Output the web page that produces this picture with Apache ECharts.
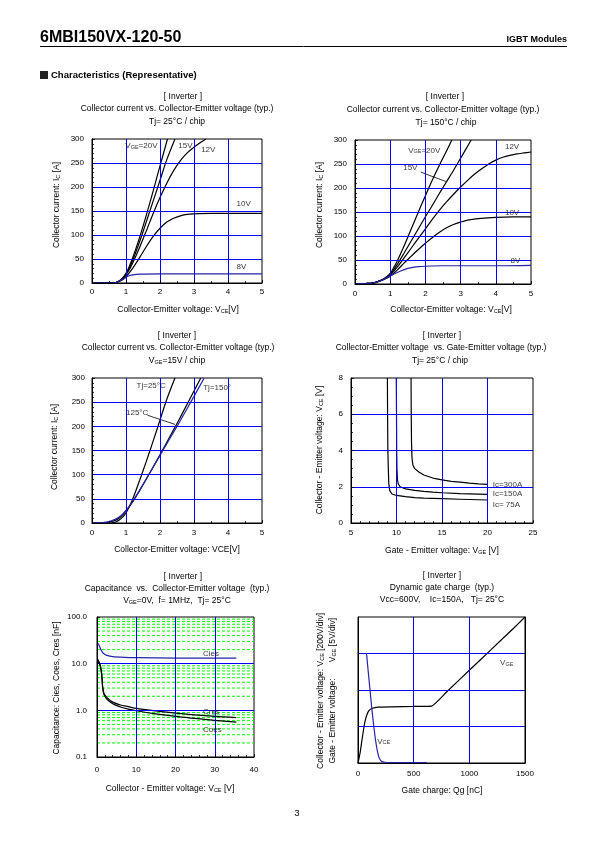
<!DOCTYPE html>
<html><head><meta charset="utf-8">
<script src="https://cdn.jsdelivr.net/npm/echarts@6/dist/echarts.min.js"></script>
<style>html,body{margin:0;padding:0;background:#fff}#c{width:595px;height:842px}</style>
</head><body><div id="c"></div>
<script>
// ---------- Chart 1: Ic vs VCE, Tj=25°C ----------
const c1_vge20 = [[0,0],[0.5,0],[0.7,1],[0.8,4],[0.9,10],[1.0,20],[1.1,35],[1.2,53],[1.4,95],[1.6,142],[1.8,192],[2.0,244],[2.22,300]];
const c1_vge15 = [[0,0],[0.5,0],[0.7,1],[0.8,4],[0.9,10],[1.0,19],[1.1,32],[1.2,48],[1.4,86],[1.6,128],[1.8,171],[2.0,214],[2.2,257],[2.44,300]];
const c1_vge12 = [[0,0],[0.5,0],[0.7,1],[0.8,4],[0.9,9],[1.0,17],[1.1,28],[1.2,42],[1.4,74],[1.6,109],[1.8,145],[2.0,178],[2.2,208],[2.4,234],[2.6,255],[2.8,271],[3.0,283],[3.2,293],[3.35,300]];
const c1_vge10 = [[0,0],[0.5,0],[0.7,1],[0.8,3],[0.9,7],[1.0,13],[1.2,31],[1.4,53],[1.6,76],[1.8,97],[2.0,114],[2.2,127],[2.4,135],[2.6,140],[2.8,143],[3.0,144],[3.5,145],[4.0,145],[5.0,145]];
const c1_vge8  = [[0,0],[0.6,0],[0.75,2],[0.85,6],[0.95,10],[1.05,14],[1.2,17],[1.4,18.5],[2.0,19],[3.0,19],[5.0,19]];
const c1_notes = [[0.98,285,'V{s|GE}=20V'],[2.54,285,'15V'],[3.21,278,'12V'],[4.25,164,'10V'],[4.25,34,'8V']];

// ---------- Chart 2: Ic vs VCE, Tj=150°C ----------
const c2_vge20 = [[0,0],[0.3,1],[0.5,2],[0.65,5],[0.8,10],[0.9,15],[1.0,22],[1.2,48],[1.4,80],[1.6,115],[1.8,150],[2.0,184],[2.2,217],[2.4,248],[2.6,277],[2.75,300]];
const c2_vge15 = [[0,0],[0.3,1],[0.5,2],[0.65,5],[0.8,10],[0.9,14],[1.0,20],[1.2,41],[1.4,65],[1.6,90],[1.8,115],[2.0,140],[2.2,164],[2.4,189],[2.6,213],[2.8,237],[3.0,262],[3.3,300]];
const c2_vge12 = [[0,0],[0.3,1],[0.5,2],[0.65,5],[0.8,9],[0.9,13],[1.0,18],[1.2,35],[1.4,55],[1.6,75],[1.8,95],[2.0,115],[2.2,135],[2.4,154],[2.6,171],[2.8,187],[3.0,202],[3.2,216],[3.4,229],[3.6,240],[3.8,250],[4.0,258],[4.2,264],[4.4,268],[4.6,271],[4.8,273],[5.0,275]];
const c2_vge10 = [[0,0],[0.3,1],[0.5,2],[0.65,5],[0.8,9],[0.9,12],[1.0,16],[1.2,29],[1.4,44],[1.6,58],[1.8,72],[2.0,85],[2.2,97],[2.4,108],[2.6,117],[2.8,124],[3.0,129],[3.2,133],[3.5,136],[4.0,139],[4.5,140],[5.0,140]];
const c2_vge8  = [[0,0],[0.3,1],[0.5,2],[0.65,5],[0.8,9],[0.9,13],[1.0,17],[1.2,24],[1.4,30],[1.6,34],[1.8,36],[2.0,37],[2.5,38],[3.0,38],[4.0,38],[5.0,39]];
const c2_notes = [[1.51,278,'V{s|GE}=20V'],[1.37,243,'15V'],[4.26,285,'12V'],[4.26,149,'10V'],[4.42,48,'8V']];
const c2_leader = [[1.87,233],[2.6,213]];

// ---------- Chart 3: Ic vs VCE, VGE=15V ----------
const c3_tj25  = [[0,0],[0.5,0],[0.6,0.5],[0.7,2],[0.8,6],[0.9,12],[1.0,21],[1.1,34],[1.2,50],[1.4,88],[1.6,128],[1.8,170],[2.0,213],[2.2,256],[2.44,300]];
const c3_tj125 = [[0,0],[0.3,0.5],[0.5,2],[0.7,6],[0.85,13],[1.0,25],[1.2,44],[1.4,67],[1.6,91],[1.8,116],[2.0,141],[2.2,167],[2.4,193],[2.6,219],[2.8,246],[3.0,273],[3.2,300]];
const c3_tj150 = [[0,0],[0.3,1],[0.5,3],[0.7,8],[0.85,15],[1.0,26],[1.2,45],[1.4,68],[1.6,92],[1.8,116],[2.0,140],[2.2,164],[2.4,188],[2.6,212],[2.8,237],[3.0,262],[3.3,300]];
const c3_notes = [[1.31,283,'Tj=25°C'],[3.27,280,'Tj=150°'],[1.0,228,'125°C']];
const c3_leader = [[1.63,223],[2.44,204]];

// ---------- Chart 4: VCE vs VGE ----------
const c4_ic300 = [[11.6,8],[11.62,6],[11.65,4.5],[11.7,3.6],[11.8,3.2],[12,3.0],[12.5,2.8],[13,2.65],[14,2.48],[15,2.38],[16,2.3],[17,2.25],[18,2.2],[19,2.16],[20,2.13]];
const c4_ic150 = [[9.98,8],[10.0,6],[10.02,4],[10.05,3],[10.1,2.4],[10.2,2.15],[10.4,2.0],[11,1.88],[12,1.8],[13,1.74],[14,1.7],[15,1.67],[17,1.62],[20,1.58]];
const c4_ic75  = [[9.0,8],[9.02,6],[9.05,4],[9.1,3],[9.15,2.2],[9.25,1.8],[9.5,1.6],[10,1.52],[11,1.45],[12,1.4],[13,1.37],[15,1.34],[17,1.31],[20,1.27]];
const c4_notes = [[20.57,2.09,'Ic=300A'],[20.57,1.59,'Ic=150A'],[20.57,1.0,'Ic= 75A']];

// ---------- Chart 5: Capacitance vs VCE ----------
const c5_cies = [[0.3,27],[0.6,24],[1.0,20],[1.5,17],[2.0,15.8],[2.5,15],[4,14.2],[7,13.7],[10,13.5],[20,13.2],[30,13.1],[35.5,13.1]];
const c5_cres = [[0.2,12.5],[0.5,11],[0.8,9.5],[1.0,8],[1.2,6],[1.45,3.2],[1.8,2.3],[2.5,1.9],[4,1.5],[6,1.3],[8,1.2],[10,1.1],[15,0.97],[20,0.87],[25,0.8],[30,0.74],[35.5,0.7]];
const c5_coes = [[0.2,11.5],[0.5,10.5],[0.8,9],[1.0,7.5],[1.2,5.6],[1.45,3.0],[1.8,2.15],[2.5,1.75],[4,1.38],[6,1.18],[8,1.06],[10,0.98],[15,0.84],[20,0.74],[25,0.67],[30,0.61],[35.5,0.56]];
const c5_minorGrid = [0.2,0.3,0.4,0.5,0.6,0.7,0.8,0.9,2,3,4,5,6,7,8,9,20,30,40,50,60,70,80,90];
const c5_xRange = [0, 40];
const c5_notes = [[27,16.4,'Cies'],[27,0.94,'Cres'],[27,0.38,'Coes']];

// ---------- Chart 6: Dynamic gate charge ----------
const c6_vge = [[0,0],[20,1.5],[40,3.6],[60,5.5],[80,6.6],[100,7.2],[130,7.5],[180,7.65],[300,7.7],[500,7.75],[660,7.8],[800,9.8],[1000,12.7],[1200,15.6],[1400,18.5],[1500,20]];
const c6_vce = [[0,600],[70,600],[78,590],[85,545],[100,450],[115,355],[130,265],[145,185],[160,115],[175,62],[190,28],[210,10],[240,4],[300,2],[620,2]];
const c6_notesVge = [[1276,13.7,'V{s|GE}']];
const c6_notesVce = [[173,117,'V{s|CE}']];

// ---------- styling ----------
const FONT = '"Liberation Sans", Arial, Helvetica, sans-serif';
const GRIDBLUE = '#0000ff';
const NAVY = '#2323a8';
const SUB = {s: {fontSize: 5.5, verticalAlign: 'bottom', fontFamily: FONT, fill: '#000', color: '#000'}};

const grids = [
  {left: 92, top: 139, width: 170, height: 144},
  {left: 355, top: 140, width: 176, height: 144},
  {left: 92, top: 378, width: 170, height: 145},
  {left: 351, top: 378, width: 182, height: 145},
  {left: 97, top: 617, width: 157, height: 140},
  {left: 358, top: 617, width: 167, height: 146}
].map(g => Object.assign(g, {show: true, borderColor: '#000', borderWidth: 1, backgroundColor: 'transparent'}));

function ax(dir, gi, min, max, interval, o) {
  o = o || {};
  const a = {
    type: o.type || 'value', gridIndex: gi, min: min, max: max,
    position: o.position || (dir === 'x' ? 'bottom' : 'left'),
    axisLine: {show: true, onZero: false, lineStyle: {color: '#000', width: 1}},
    axisTick: {show: o.ticks !== false, inside: true, length: 3, lineStyle: {color: '#000', width: 0.8}},
    minorTick: {show: !!o.minor, splitNumber: o.minor || 5, length: 2, lineStyle: {color: '#000', width: 0.8}},
    axisLabel: {show: o.labels !== false, fontSize: 8, color: '#000', fontFamily: FONT, margin: o.margin || 6,
      formatter: o.fmt || (v => String(v))},
    splitLine: {show: o.split !== false, showMinLine: false, showMaxLine: false, lineStyle: {color: GRIDBLUE, width: 1}},
    z: 4
  };
  if (interval != null) a.interval = interval;
  if (o.type === 'log') { a.logBase = 10; a.splitNumber = 3; }
  return a;
}

const xAxes = [
  ax('x', 0, 0, 5, 1, {minor: 2, margin: 5}),
  ax('x', 1, 0, 5, 1, {minor: 2, margin: 6}),
  ax('x', 2, 0, 5, 1, {minor: 2, margin: 6}),
  ax('x', 3, 5, 25, 5, {minor: 5, margin: 6}),
  ax('x', 4, c5_xRange[0], c5_xRange[1], 10, {minor: 5, margin: 9}),
  ax('x', 5, 0, 1500, 500, {ticks: false, margin: 7})
];
const yAxes = [
  ax('y', 0, 0, 300, 50, {minor: 5, margin: 8}),
  ax('y', 1, 0, 300, 50, {minor: 5, margin: 8}),
  ax('y', 2, 0, 300, 50, {minor: 5, margin: 7}),
  ax('y', 3, 0, 8, 2, {minor: 4, margin: 8}),
  ax('y', 4, 0.1, 100, null, {type: 'log', margin: 10, fmt: v => Number(v).toFixed(1)}),
  ax('y', 5, 0, 800, 200, {labels: false, ticks: false}),
  ax('y', 5, 0, 20, 5, {position: 'right', labels: false, ticks: false, split: false})
];

function line(xi, yi, data, color, smooth, width) {
  return {type: 'line', xAxisIndex: xi, yAxisIndex: yi, data: data, symbol: 'none', silent: true,
    smooth: smooth == null ? 0.3 : smooth, lineStyle: {color: color, width: width || 1.2}, z: 3};
}
function notes(xi, yi, arr) {
  return {type: 'scatter', xAxisIndex: xi, yAxisIndex: yi, symbolSize: 0, silent: true, z: 6,
    data: arr.map(a => ({value: [a[0], a[1]], name: a[2]})),
    label: {show: true, position: 'right', distance: 0, formatter: '{b}', fontSize: 8, color: '#000', fontFamily: FONT, rich: SUB}};
}
// green dashed minor grid of the log chart, drawn through the chart's own scales
const c5_greenLines = c5_minorGrid.map(v => ({
  type: 'line', xAxisIndex: 4, yAxisIndex: 4, symbol: 'none', silent: true, z: 1,
  data: [[c5_xRange[0], v], [c5_xRange[1], v]],
  lineStyle: {color: '#00ff00', type: [3, 2], width: 1, opacity: 1}
}));

const series = [
  line(0,0,c1_vge20,'#000'), line(0,0,c1_vge15,'#000'), line(0,0,c1_vge12,'#000'), line(0,0,c1_vge10,'#000'), line(0,0,c1_vge8,NAVY),
  notes(0,0,c1_notes),
  line(1,1,c2_vge20,'#000'), line(1,1,c2_vge15,'#000'), line(1,1,c2_vge12,'#000'), line(1,1,c2_vge10,'#000'), line(1,1,c2_vge8,NAVY),
  line(1,1,c2_leader,'#000',false,0.8), notes(1,1,c2_notes),
  line(2,2,c3_tj25,'#000'), line(2,2,c3_tj125,'#000'), line(2,2,c3_tj150,NAVY),
  line(2,2,c3_leader,'#000',false,0.8), notes(2,2,c3_notes),
  line(3,3,c4_ic300,'#000',false), line(3,3,c4_ic150,'#000',false), line(3,3,c4_ic75,'#000',false),
  notes(3,3,c4_notes)
].concat(c5_greenLines).concat([
  line(4,4,c5_cies,NAVY), line(4,4,c5_cres,'#000'), line(4,4,c5_coes,'#000'),
  notes(4,4,c5_notes),
  line(5,6,c6_vge,'#000',0.15), line(5,5,c6_vce,NAVY,0.2),
  notes(5,6,c6_notesVge), notes(5,5,c6_notesVce)
]);

// ---------- texts ----------
function txt(s, x, y, o) {
  o = o || {};
  return {type: 'text', x: x, y: y, rotation: o.rot || 0, z: 10, silent: true,
    style: {text: s, fill: '#000', font: (o.font || '8.5px') + ' ' + FONT, align: o.align || 'center', verticalAlign: 'middle', rich: SUB}};
}
const titleTexts = [
  ['[ Inverter ]',183,97],['Collector current vs. Collector-Emitter voltage (typ.)',177,109],['Tj= 25°C / chip',177,122],
  ['[ Inverter ]',445,97],['Collector current vs. Collector-Emitter voltage (typ.)',443,110],['Tj= 150°C / chip',446,123],
  ['[ Inverter ]',177,336],['Collector current vs. Collector-Emitter voltage (typ.)',178,348],['V{s|GE}=15V / chip',177,361],
  ['[ Inverter ]',442,336],['Collector-Emitter voltage  vs. Gate-Emitter voltage (typ.)',441,348],['Tj= 25°C / chip',440,361],
  ['[ Inverter ]',183,577],['Capacitance  vs.  Collector-Emitter voltage  (typ.)',177,589],['V{s|GE}=0V,  f= 1MHz,  Tj= 25°C',177,601],
  ['[ Inverter ]',442,576],['Dynamic gate charge  (typ.)',442,588],['Vcc=600V,    Ic=150A,   Tj= 25°C',442,600]
];
const xNames = [
  ['Collector-Emitter voltage: V{s|CE}[V]',178,310],
  ['Collector-Emitter voltage: V{s|CE}[V]',451,310],
  ['Collector-Emitter voltage: VCE[V]',177,550],
  ['Gate - Emitter voltage: V{s|GE} [V]',442,551],
  ['Collector - Emitter voltage: V{s|CE} [V]',170,789],
  ['Gate charge: Qg [nC]',442,791]
];
const yNames = [
  ['Collector current: I{s|C} [A]',57,205],
  ['Collector current: I{s|C} [A]',320,205],
  ['Collector current: I{s|C} [A]',55,447],
  ['Collector - Emitter voltage: V{s|CE} [V]',320,450],
  ['Capacitance: Cies, Coes, Cres [nF]',57,688],
  ['Collector - Emitter voltage: V{s|CE} [200V/div]',321,691],
  ['V{s|GE} [5V/div]',333,640],
  ['Gate - Emitter voltage:',333,721]
];

const graphics = [
  {type: 'text', x: 40, y: 38, z: 10, style: {text: '6MBI150VX-120-50', fill: '#000', font: 'bold 16px "Liberation Sans Narrow", "Liberation Sans", Arial', align: 'left', verticalAlign: 'middle'}},
  {type: 'text', x: 567, y: 40, z: 10, style: {text: 'IGBT Modules', fill: '#000', font: 'bold 9px ' + FONT, align: 'right', verticalAlign: 'middle'}},
  {type: 'line', z: 10, shape: {x1: 40, y1: 46.5, x2: 567, y2: 46.5}, style: {stroke: '#000', lineWidth: 1}},
  {type: 'rect', z: 10, shape: {x: 40, y: 71, width: 8, height: 8}, style: {fill: '#222'}},
  {type: 'text', x: 51, y: 75, z: 10, style: {text: 'Characteristics (Representative)', fill: '#000', font: 'bold 9.5px ' + FONT, align: 'left', verticalAlign: 'middle'}},
  {type: 'text', x: 297, y: 814, z: 10, style: {text: '3', fill: '#000', font: '9px ' + FONT, align: 'center', verticalAlign: 'middle'}}
]
  .concat(titleTexts.map(t => txt(t[0], t[1], t[2])))
  .concat(xNames.map(t => txt(t[0], t[1], t[2])))
  .concat(yNames.map(t => txt(t[0], t[1], t[2], {rot: Math.PI / 2})));

const chart = echarts.init(document.getElementById('c'), null, {renderer: 'canvas'});
chart.setOption({
  animation: false,
  backgroundColor: '#fff',
  grid: grids,
  xAxis: xAxes,
  yAxis: yAxes,
  series: series,
  graphic: graphics
});
</script></body></html>
